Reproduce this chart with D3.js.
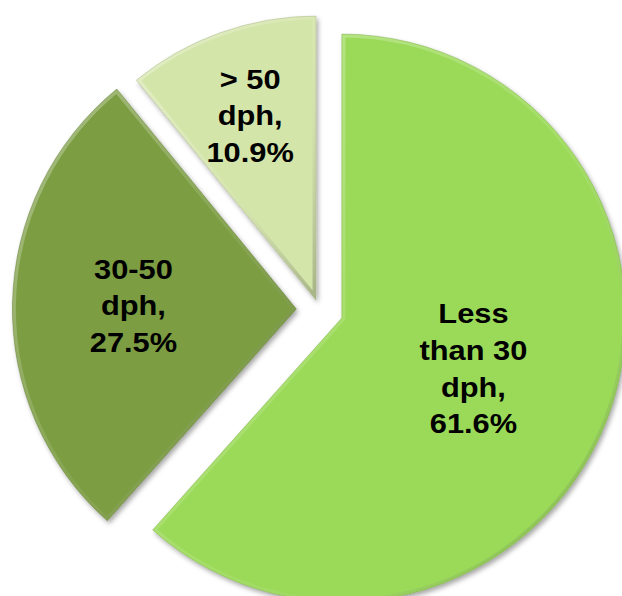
<!DOCTYPE html>
<html>
<head>
<meta charset="utf-8">
<script src="https://cdn.jsdelivr.net/npm/d3@7"></script>
<style>
  html, body { margin: 0; padding: 0; background: #fff; }
  svg { display: block; }
</style>
</head>
<body>
<svg width="622" height="596"></svg>
<script>
// slice data, clockwise from 12 o'clock
var categories = ["Less than 30 dph", "30-50 dph", "> 50 dph"]
var values = [61.6, 27.5, 10.9]
var labelLines = [["Less", "than 30", "dph,"], ["30-50", "dph,"], ["> 50", "dph,"]]

// styling / layout per slice
var colors = ["#9bda58", "#7c9d42", "#d4e5aa"]
var explode = [24, 23, 10]
var labelPos = [0.496, 0.574, 0.691]

function draw_pie() {
    var svg = d3.select("svg"),
        radius = 284,
        cx = 319.4,
        cy = 309.5,
        lineHeight = 36.7

    var defs = svg.append("defs")

    var shadow = defs.append("filter")
        .attr("id", "shadow")
        .attr("x", "-10%").attr("y", "-10%")
        .attr("width", "130%").attr("height", "130%")
    shadow.append("feDropShadow")
        .attr("dx", 2).attr("dy", 3)
        .attr("stdDeviation", 2.5)
        .attr("flood-color", "#000")
        .attr("flood-opacity", 0.35)

    var bevel = defs.append("linearGradient")
        .attr("id", "bevel")
        .attr("x1", 0).attr("y1", 0).attr("x2", 1).attr("y2", 1)
    bevel.append("stop").attr("offset", "0%").attr("stop-color", "#fff").attr("stop-opacity", 0.35)
    bevel.append("stop").attr("offset", "55%").attr("stop-color", "#fff").attr("stop-opacity", 0.08)
    bevel.append("stop").attr("offset", "100%").attr("stop-color", "#000").attr("stop-opacity", 0.22)

    var pie = d3.pie().sort(null).value(function (d) { return d })
        .startAngle(0).endAngle(2 * Math.PI)
    var arcs = pie(values)

    var arc = d3.arc().innerRadius(0).outerRadius(radius)

    var g = svg.append("g").attr("transform", "translate(" + cx + "," + cy + ")")

    var slices = g.selectAll("g.slice")
        .data(arcs)
        .enter().append("g")
        .attr("class", "slice")
        .attr("transform", function (d, i) {
            var mid = (d.startAngle + d.endAngle) / 2
            return "translate(" + (Math.sin(mid) * explode[i]) + "," + (-Math.cos(mid) * explode[i]) + ")"
        })

    slices.append("clipPath")
        .attr("id", function (d, i) { return "clip" + i })
        .append("path")
        .attr("d", arc)

    slices.append("path")
        .attr("d", arc)
        .attr("fill", function (d, i) { return colors[i] })
        .attr("filter", "url(#shadow)")

    // soft inner bevel rim
    slices.append("path")
        .attr("d", arc)
        .attr("fill", "none")
        .attr("stroke", "url(#bevel)")
        .attr("stroke-width", 7)
        .attr("stroke-linejoin", "round")
        .attr("clip-path", function (d, i) { return "url(#clip" + i + ")" })

    slices.append("path")
        .attr("d", arc)
        .attr("fill", "none")
        .attr("stroke", function (d, i) { return d3.color(colors[i]).darker(0.8) })
        .attr("stroke-opacity", 0.5)
        .attr("stroke-width", 0.8)

    // labels
    slices.each(function (d, i) {
        var mid = (d.startAngle + d.endAngle) / 2
        var lx = Math.sin(mid) * radius * labelPos[i]
        var ly = -Math.cos(mid) * radius * labelPos[i]
        var lines = labelLines[i].concat([values[i].toFixed(1) + "%"])
        var t = d3.select(this).append("g")
            .attr("transform", "translate(" + lx + "," + ly + ") scale(1.1,1)")
            .append("text")
            .attr("text-anchor", "middle")
            .attr("font-family", "Liberation Sans, Arial, sans-serif")
            .attr("font-weight", "bold")
            .attr("font-size", "28px")
            .attr("fill", "#000")
        lines.forEach(function (s, k) {
            t.append("tspan")
                .attr("x", 0)
                .attr("y", -(lines.length - 1) * lineHeight / 2 + k * lineHeight + 10)
                .text(s)
        })
    })
}

draw_pie()
</script>
</body>
</html>
